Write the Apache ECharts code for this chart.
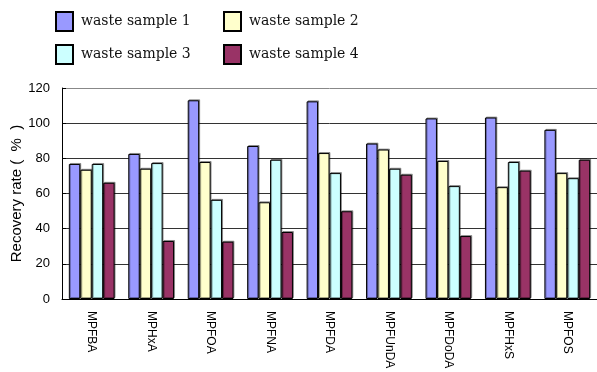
<!DOCTYPE html>
<html lang="en">

<head>
    <meta charset="UTF-8">
    <title>Recovery rate</title>
    <script src="https://cdn.jsdelivr.net/npm/echarts@6/dist/echarts.min.js"></script>
</head>

<body style="margin:0">
<div id="main" style="width: 597px;height: 372px;"></div>

<script>
    // 化合物
    var categories = ['MPFBA', 'MPHxA', 'MPFOA', 'MPFNA', 'MPFDA', 'MPFUnDA', 'MPFDoDA', 'MPFHxS', 'MPFOS']
    var sample1 = [76.8, 82.5, 113, 87, 112.4, 88.4, 102.7, 103.2, 96.2]
    var sample2 = [73.5, 74.1, 77.9, 55, 83, 85, 78.5, 63.6, 71.6]
    var sample3 = [76.8, 77.3, 56.4, 79.2, 71.6, 74.1, 64.2, 77.9, 68.7]
    var sample4 = [66.1, 33, 32.6, 38.1, 49.9, 70.7, 35.8, 73.0, 79.2]
    var yTicks = [0, 20, 40, 60, 80, 100, 120]

    var names = ['waste sample 1', 'waste sample 2', 'waste sample 3', 'waste sample 4']
    var colors = ['#9999FF', '#FFFFCC', '#CCFFFF', '#993366']
    var values = [sample1, sample2, sample3, sample4]

    var mCharts = echarts.init(document.getElementById('main'))

    var legendText = {
        fontFamily: '"DejaVu Serif", "Liberation Serif", serif',
        fontSize: 14,
        color: '#111',
        padding: [0, 0, 0, 3]
    }

    var option = {
        animation: false,
        legend: [{
            left: 55,
            top: 11,
            padding: 0,
            orient: 'vertical',
            icon: 'rect',
            itemWidth: 17,
            itemHeight: 19,
            itemGap: 12,
            textStyle: legendText,
            data: [names[0], names[2]]
        }, {
            left: 223,
            top: 11,
            padding: 0,
            orient: 'vertical',
            icon: 'rect',
            itemWidth: 17,
            itemHeight: 19,
            itemGap: 12,
            textStyle: legendText,
            data: [names[1], names[3]]
        }],
        grid: {
            left: 62,
            right: 0,
            top: 88,
            bottom: 73,
            outerBoundsMode: 'none'
        },
        xAxis: {
            type: 'category',
            data: categories,
            axisLine: { lineStyle: { color: '#000', width: 1 } },
            axisTick: { inside: true, length: 4, lineStyle: { color: '#000' } },
            axisLabel: {
                rotate: -90,
                margin: 12,
                color: '#000',
                fontFamily: '"Liberation Sans", Arial, sans-serif',
                fontSize: 12
            }
        },
        yAxis: {
            type: 'value',
            min: yTicks[0],
            max: yTicks[yTicks.length - 1],
            interval: 20,
            name: 'Recovery rate (  %  )',
            nameLocation: 'middle',
            nameGap: 38,
            nameMoveOverlap: false,
            nameTextStyle: {
                color: '#000',
                fontFamily: '"Liberation Sans", Arial, sans-serif',
                fontSize: 15
            },
            axisLine: { show: true, lineStyle: { color: '#000', width: 1 } },
            axisTick: { show: true, inside: true, length: 4, lineStyle: { color: '#000' } },
            axisLabel: {
                margin: 12,
                color: '#000',
                fontFamily: '"Liberation Sans", Arial, sans-serif',
                fontSize: 13
            },
            splitLine: {
                lineStyle: { color: ['#000', '#333', '#333', '#333', '#333', '#333', '#888'] }
            }
        },
        series: values.map(function (v, i) {
            return {
                name: names[i],
                type: 'bar',
                data: v,
                barGap: 0,
                barCategoryGap: '23%',
                itemStyle: {
                    color: colors[i],
                    borderColor: '#000',
                    borderWidth: 1,
                    shadowColor: 'rgba(0,0,0,0.35)',
                    shadowOffsetX: 1,
                    shadowOffsetY: -1
                }
            }
        })
    }
    mCharts.setOption(option)
</script>
</body>

</html>
